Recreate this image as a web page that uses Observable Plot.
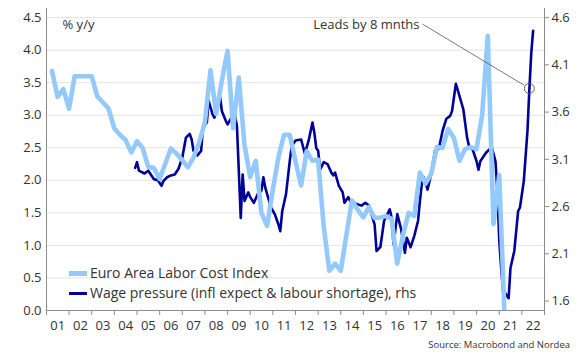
<!DOCTYPE html>
<html><head><meta charset="utf-8">
<script src="https://cdn.jsdelivr.net/npm/d3@7"></script>
<script src="https://cdn.jsdelivr.net/npm/@observablehq/plot@0.6"></script>
<style>
body{margin:0;background:#fff;font-family:"Open Sans",sans-serif;color:#333;}
#wrap{position:relative;width:581px;height:361px;overflow:hidden;}
.legend{position:absolute;left:69px;top:263px;font-size:14px;line-height:20px;}
.legend div{display:flex;align-items:center;white-space:nowrap;}
.legend span.sw{display:inline-block;width:18px;margin-right:3px;}
.src{position:absolute;right:11px;top:337px;font-size:9.5px;line-height:16px;}
</style></head><body>
<div id="wrap"><div id="chart"></div>
<div class="legend" id="legend"></div>
<div class="src" id="src"></div></div>
<script>
// Euro Area Labor Cost Index, % y/y, quarterly from 2001 Q1 (left axis)
const lciStartYear = 2001;
const lciValues = [
 3.68,3.28,3.40,3.10, 3.60,3.60,3.60,3.60, 3.29,3.20,3.10,2.80, 2.70,2.62,2.43,2.60,
 2.50,2.21,2.19,2.02, 2.25,2.49,2.41,2.31, 2.20,2.35,2.58,2.89, 3.69,3.02,3.53,3.99,
 2.80,3.58,2.55,2.05, 2.30,1.50,1.30,1.85, 2.35,2.70,2.70,2.30, 1.92,2.45,2.30,2.32,
 1.30,0.61,0.72,0.61, 1.15,1.69,1.55,1.43, 1.59,1.42,1.43,1.45, 1.41,0.72,1.15,1.50,
 1.45,2.12,1.95,2.10, 2.51,2.50,2.79,2.65, 2.30,2.48,2.51,2.48, 3.00,4.22,1.33,2.08,
 -0.15
];
// Wage pressure (infl expect & labour shortage), rhs, monthly readings
const wpMonths = [
 "2004-12","2005-01","2005-02","2005-05","2005-07","2005-10","2005-12","2006-01","2006-02","2006-03",
 "2006-05","2006-07","2006-09","2006-11","2007-01","2007-03","2007-05","2007-06","2007-07","2007-09",
 "2007-11","2007-12","2008-02","2008-03","2008-05","2008-06","2008-09","2008-10","2008-12","2009-01",
 "2009-03","2009-05","2009-06","2009-08","2009-09","2009-10","2009-12","2010-01","2010-03","2010-05",
 "2010-07","2010-08","2010-09","2010-12","2011-02","2011-04","2011-05","2011-06","2011-08","2011-10",
 "2011-11","2012-01","2012-04","2012-06","2012-08","2012-10","2012-11","2012-12","2013-01","2013-02",
 "2013-04","2013-06","2013-08","2013-09","2013-10","2013-12","2014-02","2014-03","2014-05","2014-06",
 "2014-09","2014-12","2015-02","2015-04","2015-07","2015-08","2015-10","2015-12","2016-03","2016-04",
 "2016-05","2016-07","2016-09","2016-11","2016-12","2017-02","2017-04","2017-06","2017-07","2017-08",
 "2017-09","2017-10","2017-11","2018-01","2018-03","2018-05","2018-07","2018-09","2018-11","2018-12",
 "2019-02","2019-04","2019-06","2019-08","2019-09","2019-11","2020-01","2020-02","2020-03","2020-06",
 "2020-09","2020-11","2020-12","2021-01","2021-02","2021-03","2021-06","2021-07","2021-09","2021-11",
 "2021-12","2022-02","2022-04","2022-05","2022-06","2022-07"
];
const wpValues = [
 3.01,3.07,2.98,2.95,2.98,2.89,2.88,2.85,2.82,2.87,
 2.91,2.93,2.94,3.00,3.12,3.33,3.37,3.31,3.19,3.14,
 3.19,3.44,3.49,3.72,3.58,3.54,3.76,3.61,3.51,3.47,
 3.54,3.56,3.45,2.48,2.94,2.66,2.75,2.70,2.64,2.73,
 2.77,2.91,2.80,2.59,2.52,2.41,2.34,2.55,2.73,3.08,
 3.24,3.30,3.31,3.16,3.30,3.49,3.38,3.22,3.19,2.99,
 3.07,3.05,2.96,2.93,2.96,2.82,2.75,2.64,2.70,2.66,
 2.63,2.61,2.64,2.61,2.41,2.13,2.17,2.45,2.57,2.48,
 2.20,2.52,2.36,2.11,2.27,2.17,2.29,2.45,2.66,2.84,
 2.91,2.85,2.78,2.95,3.19,3.21,3.40,3.53,3.56,3.61,
 3.90,3.77,3.63,3.33,3.24,3.20,3.08,2.99,3.08,3.17,
 3.23,3.08,2.77,2.24,1.95,1.72,1.63,1.95,2.13,2.55,
 2.59,2.87,3.40,3.83,4.22,4.46
];
const leftTicks = [0,0.5,1,1.5,2,2.5,3,3.5,4,4.5];
const rightTicks = [1.6,2.1,2.6,3.1,3.6,4.1,4.6];
const yearLabels = d3.range(2001, 2023);
const seriesNames = ["Euro Area Labor Cost Index","Wage pressure (infl expect & labour shortage), rhs"];
const colors = ["#93c9fc","#00009a"];
const unitLabel = "% y/y";
const note = {text:"Leads by 8 mnths", textEnd:"2017-06-25", lineStart:"2017-08-12", lineStartY:4.40,
              month:"2022-05", value:3.85, lineEnd:"2022-02-08", lineEndY:3.46};
const source = "Source: Macrobond and Nordea";

// right-axis (rhs) value -> left-axis position
const toL = r => (r - 1.5) * 4.5 / 3.1;
const fromL = l => 1.5 + l * 3.1 / 4.5;

const lci = lciValues.map((v,i)=>({date:new Date(Date.UTC(lciStartYear+Math.floor(i/4),(i%4)*3+3,0)), value:v}));
const wp = wpMonths.map((m,i)=>({date:new Date(m+"-01T00:00Z"), value:wpValues[i]}));
const yearTicks = d3.range(2001, 2024).map(y=>new Date(Date.UTC(y,0,1)));
const midYears = yearLabels.map(y=>new Date(Date.UTC(y,6,2)));
const x0 = new Date(Date.UTC(2001,0,1)), x1 = new Date(Date.UTC(2023,0,1));

const chart = Plot.plot({
  width:581, height:335,
  marginLeft:46, marginRight:37, marginTop:8, marginBottom:25,
  style:{fontFamily:'"Open Sans",sans-serif', fontSize:"13px", color:"#333", background:"#fff"},
  x:{type:"utc", domain:[x0,x1]},
  y:{domain:[0,4.64]},
  marks:[
    Plot.gridY(leftTicks,{stroke:"#e4e4e4", strokeOpacity:1}),
    Plot.line(wp,{x:"date", y:d=>toL(d.value), stroke:colors[1], strokeWidth:2.6, clip:true}),
    Plot.line(lci,{x:"date", y:"value", stroke:colors[0], strokeWidth:4.6, clip:true}),
    Plot.ruleX([x0,x1],{stroke:"#8c8c8c", strokeWidth:1}),
    Plot.ruleY([0],{stroke:"#8c8c8c", strokeWidth:1}),
    Plot.axisY(leftTicks,{anchor:"left", tickSize:0, tickPadding:5, tickFormat:d3.format(".1f"), label:null}),
    Plot.axisY(rightTicks.map(toL),{anchor:"right", tickSize:4, tickPadding:3, stroke:"#8c8c8c",
      tickFormat:d=>fromL(d).toFixed(1), label:null}),
    Plot.axisX(yearTicks,{tickSize:5, tickFormat:()=>"", stroke:"#8c8c8c", label:null}),
    Plot.axisX(midYears,{tickSize:0, tickPadding:10, tickFormat:d3.utcFormat("%y"), label:null}),
    Plot.text([unitLabel],{frameAnchor:"top-left", dx:16, dy:11, textAnchor:"start", fontSize:13, fill:"#333"}),
    Plot.link([note],{x1:d=>new Date(d.lineStart+"T00:00Z"), y1:"lineStartY", x2:d=>new Date(d.lineEnd+"T00:00Z"), y2:"lineEndY",
      stroke:"#555", strokeWidth:0.8}),
    Plot.dot([note],{x:d=>new Date(d.month+"-01T00:00Z"), y:d=>toL(d.value), r:5, stroke:"#555", fill:"none", strokeWidth:0.9}),
    Plot.text([note],{x:d=>new Date(d.textEnd+"T00:00Z"), y:4.39, text:"text", textAnchor:"end", fontSize:13, fill:"#333"})
  ]
});
document.getElementById("chart").appendChild(chart);

const lg = document.getElementById("legend");
seriesNames.forEach((n,i)=>{
  const row = document.createElement("div");
  const sw = document.createElement("span");
  sw.className="sw"; sw.style.height=(i===0?5:3)+"px"; sw.style.background=colors[i];
  row.appendChild(sw);
  row.appendChild(document.createTextNode(n));
  lg.appendChild(row);
});
document.getElementById("src").textContent = source;
</script>
</body></html>
